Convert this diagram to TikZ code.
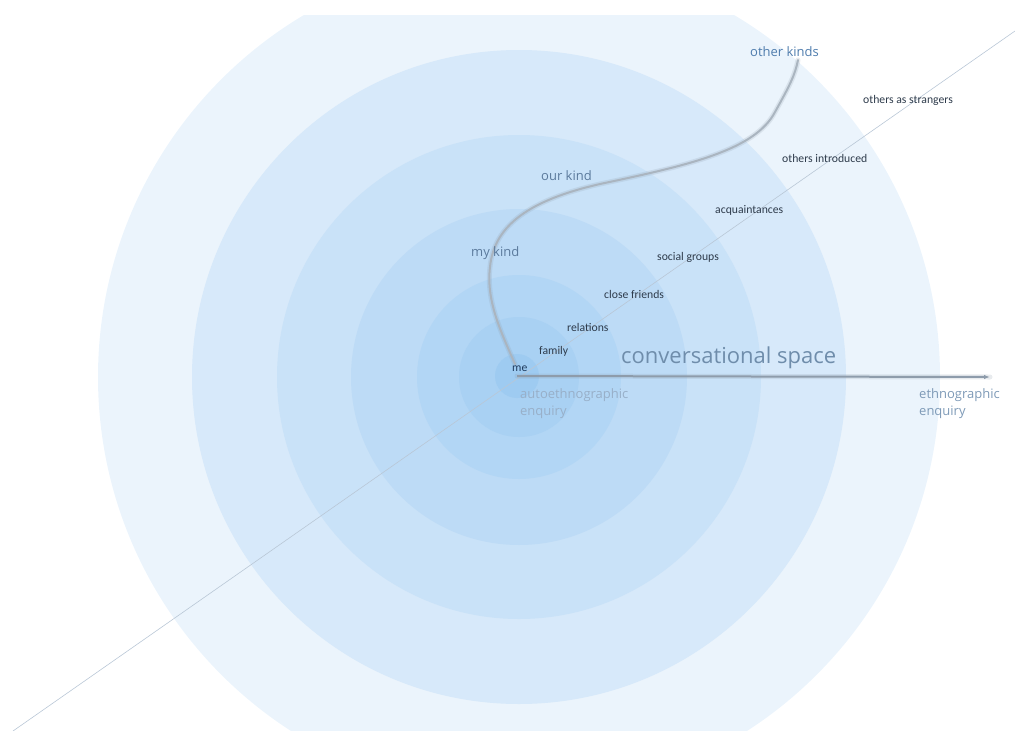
\documentclass[tikz,border=0pt]{standalone}
\usepackage{fontspec}
\setmainfont{Open Sans}
\newfontfamily\smallfont{Carlito}
\usetikzlibrary{arrows.meta}
\definecolor{ringa}{HTML}{EBF4FC}
\definecolor{ringb}{HTML}{D7E9FA}
\definecolor{ringc}{HTML}{C9E2F8}
\definecolor{ringd}{HTML}{BDDBF6}
\definecolor{ringe}{HTML}{B2D6F5}
\definecolor{ringf}{HTML}{A9D1F3}
\definecolor{ringme}{HTML}{9ECBF1}
\definecolor{kindblue}{HTML}{5B7A9C}
\definecolor{otherblue}{HTML}{4E7CAD}
\definecolor{tagdark}{HTML}{2E3B4B}
\definecolor{medark}{HTML}{1F3A5C}
\definecolor{spacegray}{HTML}{6F8DAB}
\definecolor{enqlight}{HTML}{98AFC8}
\definecolor{enqblue}{HTML}{7E9AB7}
\definecolor{linegray}{HTML}{8E9CAB}
\definecolor{axisgray}{HTML}{B9C7D6}

\begin{document}
\begin{tikzpicture}[x=1pt,y=-1pt,
  tag/.style={font=\smallfont\fontsize{11.7}{13}\selectfont,text=tagdark,anchor=base west,inner sep=0pt},
  kind/.style={font=\fontsize{13}{15}\selectfont,text=kindblue,anchor=base west,inner sep=0pt},
  enq/.style={font=\fontsize{13}{17}\selectfont,align=left,anchor=base west,inner sep=0pt},
  arr/.style={-{Latex[length=6pt,width=4.5pt]},line width=2pt,linegray},
  glow/.style={line width=5pt,linegray,opacity=0.2,line cap=round},
  kline/.style={line width=2pt,linegray!75,line cap=round},
  axis/.style={axisgray,line width=0.6pt}
]
\useasboundingbox (0,0) rectangle (1015,731);

% rings, cut off at the top
\begin{scope}
\clip (0,15) rectangle (1015,731);
\foreach \r/\c in {421/ringa,327/ringb,242/ringc,168/ringd,102/ringe,60/ringf}
  \fill[\c] (519,377) circle[radius=\r pt];
\end{scope}
\node[circle,fill=ringme,minimum size=44pt,inner sep=0pt] (me) at (517,376) {};

% diagonal axis
\coordinate (sw) at (13,731);
\coordinate (ne) at (1015,31);
\draw[axis] (sw) -- (ne);

% horizontal arrow out of me
\coordinate (far) at (990,377);
\draw[glow] (me.center) -- (far);
\draw[arr] (me.center) -- (far);

% curve up to the other kinds
\coordinate (kstart) at (515,364);
\coordinate (kend) at (798,60);
\draw[glow] (kstart) .. controls (500,330) and (486,300) .. (490,267)
  .. controls (494,225) and (530,200) .. (600,184)
  .. controls (690,165) and (755,150) .. (775,112)
  .. controls (790,85) and (795,75) .. (kend);
\draw[kline] (kstart) .. controls (500,330) and (486,300) .. (490,267)
  .. controls (494,225) and (530,200) .. (600,184)
  .. controls (690,165) and (755,150) .. (775,112)
  .. controls (790,85) and (795,75) .. (kend);

\node[tag,text=medark] (melabel) at (512,371) {me};
\node[tag] (family) at (539,354) {family};
\node[tag] (relations) at (567,331) {relations};
\node[tag] (friends) at (604,298) {close friends};
\node[tag] (groups) at (657,260) {social groups};
\node[tag] (acq) at (715,213) {acquaintances};
\node[tag] (introduced) at (782,162) {others introduced};
\node[tag] (strangers) at (863,103) {others as strangers};

\node[kind] (mykind) at (471,256) {my kind};
\node[kind] (ourkind) at (541,180) {our kind};
\node[kind,text=otherblue] (otherkinds) at (750,56) {other kinds};

\node[font=\fontsize{22}{24}\selectfont,text=spacegray,anchor=base west,inner sep=0pt] (space) at (621,363) {conversational space};
\node[enq,text=enqlight] (auto) at (520,415) {autoethnographic\\enquiry};
\node[enq,text=enqblue] (ethno) at (919,415) {ethnographic\\enquiry};
\end{tikzpicture}
\end{document}
